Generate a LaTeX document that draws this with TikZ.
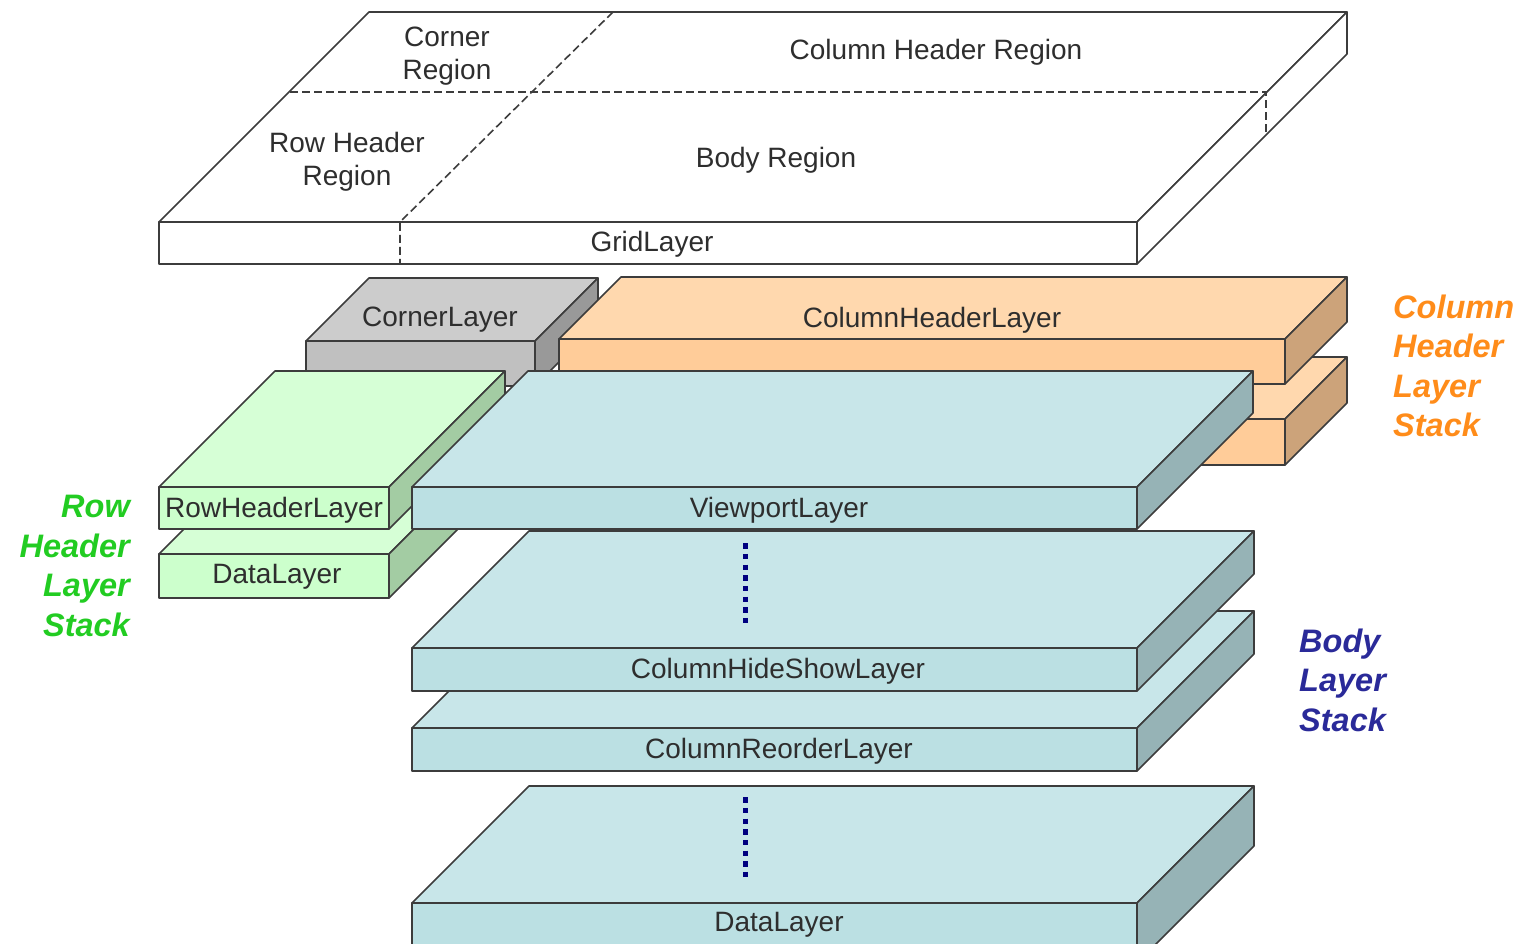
\documentclass[tikz,border=0pt]{standalone}
\usepackage{fontspec}
\setmainfont{Liberation Sans}
\colorlet{gridtop}{white}
\colorlet{gridfront}{white}
\colorlet{gridside}{white}
\definecolor{cornertop}{HTML}{CCCCCC}
\definecolor{cornerfront}{HTML}{C0C0C0}
\definecolor{cornerside}{HTML}{999999}
\definecolor{columntop}{HTML}{FFD8AE}
\definecolor{columnfront}{HTML}{FFCC99}
\definecolor{columnside}{HTML}{CCA37A}
\definecolor{rowtop}{HTML}{D6FFD6}
\definecolor{rowfront}{HTML}{CCFFCC}
\definecolor{rowside}{HTML}{A3CCA3}
\definecolor{bodytop}{HTML}{C8E6E9}
\definecolor{bodyfront}{HTML}{BBE0E3}
\definecolor{bodyside}{HTML}{96B3B6}
\definecolor{edgegrey}{HTML}{3C3C3C}
\definecolor{textgrey}{HTML}{2E2E2E}
\definecolor{rowlabel}{HTML}{22CC22}
\definecolor{columnlabel}{HTML}{FF8C1A}
\definecolor{bodylabel}{HTML}{2A2A99}
\definecolor{dotblue}{HTML}{000080}
\tikzset{
  slabedge/.style={draw=edgegrey, line width=1.6pt, line join=round},
  layertext/.style={text=textgrey, font=\fontsize{28}{33.5}\selectfont, inner sep=0pt, align=center},
  stacktext/.style={font=\fontsize{32.5}{39.5}\selectfont\bfseries\itshape, inner sep=0pt},
  griddash/.style={draw=edgegrey, line width=1.6pt, dash pattern=on 8pt off 4pt},
  layerdots/.style={draw=dotblue, line width=5.5pt, dash pattern=on 5.5pt off 5.17pt}
}
% left, right, top of front face, height, depth, colour prefix
\newcommand{\layerslab}[6]{
  \draw[slabedge, fill=#6top] (#1,#3) -- ++(#5,-#5) -- (#2+#5,#3-#5) -- (#2,#3) -- cycle;
  \draw[slabedge, fill=#6side] (#2,#3) -- ++(#5,-#5) -- ++(0,#4) -- (#2,#3+#4) -- cycle;
  \draw[slabedge, fill=#6front] (#1,#3) rectangle (#2,#3+#4);
}
\begin{document}
\begin{tikzpicture}[x=1pt, y=-1pt]
    \useasboundingbox (0,0) rectangle (1521,943);
    \clip (0,0) rectangle (1521,943);

    % grid layer
    \layerslab{159}{1137}{222}{42}{210}{grid}
    \draw[griddash] (290,92) -- (1266,92) -- (1266,132);
    \draw[griddash] (613,12) -- (400,222) -- (400,264);
    \node[layertext] (cornerRegion) at (447,56) {Corner\\Region};
    \node[layertext] (columnRegion) at (936,52) {Column Header Region};
    \node[layertext] (rowRegion) at (347,162) {Row Header\\Region};
    \node[layertext] (bodyRegion) at (776,160) {Body Region};
    \node[layertext] (gridLayer) at (652,244) {GridLayer};

    % corner
    \layerslab{306}{535}{341}{45}{63}{corner}
    \node[layertext] (cornerLayer) at (440,320) {CornerLayer};

    % column header stack
    \layerslab{559}{1285}{419}{46}{62}{column}
    \layerslab{559}{1285}{339}{45}{62}{column}
    \node[layertext] (columnHeaderLayer) at (932,320) {ColumnHeaderLayer};

    % row header stack
    \layerslab{159}{389}{554}{44}{116}{row}
    \layerslab{159}{389}{487}{42}{116}{row}
    \node[layertext] (rowDataLayer) at (277,577) {DataLayer};
    \node[layertext] (rowHeaderLayer) at (274,510) {RowHeaderLayer};

    % body stack
    \layerslab{412}{1137}{903}{60}{117}{body}
    \layerslab{412}{1137}{728}{43}{117}{body}
    \layerslab{412}{1137}{648}{43}{117}{body}
    \layerslab{412}{1137}{487}{42}{116}{body}
    \node[layertext] (viewportLayer) at (779,510) {ViewportLayer};
    \node[layertext] (columnHideShowLayer) at (778,671) {ColumnHideShowLayer};
    \node[layertext] (columnReorderLayer) at (779,751) {ColumnReorderLayer};
    \node[layertext] (bodyDataLayer) at (779,925) {DataLayer};

    \draw[layerdots] (745.7,543.2) -- (745.7,624);
    \draw[layerdots] (745.7,797.2) -- (745.7,878);

    % stack names
    \node[stacktext, text=rowlabel, align=right, anchor=east] (rowStack) at (130,566) {Row\\Header\\Layer\\Stack};
    \node[stacktext, text=columnlabel, align=left, anchor=west] (columnStack) at (1393,366) {Column\\Header\\Layer\\Stack};
    \node[stacktext, text=bodylabel, align=left, anchor=west] (bodyStack) at (1299,680) {Body\\Layer\\Stack};
  \end{tikzpicture}
\end{document}
